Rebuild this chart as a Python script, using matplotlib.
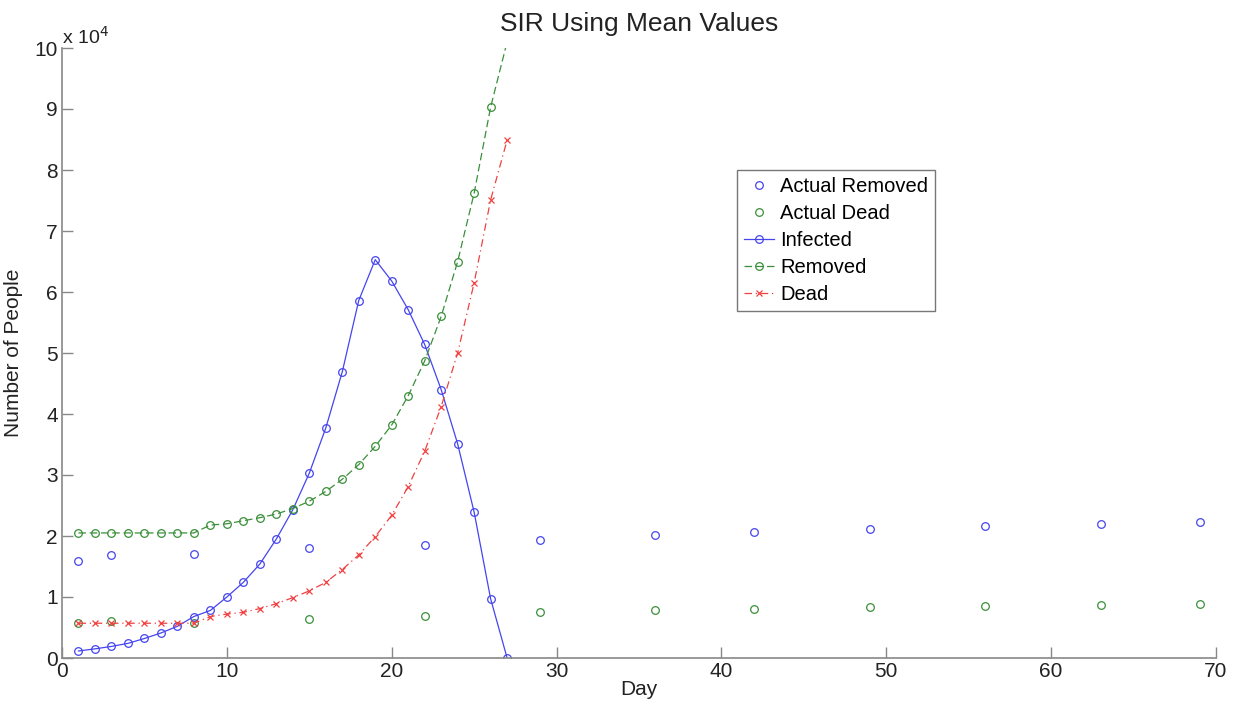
import matplotlib
matplotlib.use("Agg")
import matplotlib.pyplot as plt
from matplotlib.ticker import FuncFormatter

plt.rcParams['font.family'] = ['Liberation Sans', 'DejaVu Sans']

# ---- data (values in people) ----
model_days = list(range(1, 28))
infected = [1150, 1500, 1900, 2400, 3200, 4100, 5200, 6800, 7800, 10000,
            12400, 15400, 19500, 24300, 30300, 37700, 46900, 58600, 65300,
            61800, 57100, 51400, 44000, 35100, 23900, 9700, 0]
removed = [20500, 20500, 20500, 20500, 20500, 20500, 20500, 20500, 21800, 22000,
           22500, 23000, 23600, 24500, 25700, 27300, 29300, 31700, 34700,
           38200, 43000, 48700, 56000, 65000, 76200, 90300, 101000]
dead = [5700, 5700, 5700, 5700, 5700, 5700, 5700, 5700, 6800, 7200,
        7500, 8100, 8900, 9900, 11000, 12400, 14500, 16900, 19900,
        23400, 28100, 33900, 41200, 50000, 61500, 75100, 84900]

actual_days = [1, 3, 8, 15, 22, 29, 36, 42, 49, 56, 63, 69]
actual_removed = [15950, 16900, 17000, 18000, 18500, 19300, 20200, 20600,
                  21100, 21700, 21900, 22300]
actual_dead = [5700, 6100, 5800, 6400, 6900, 7500, 7900, 8100, 8400, 8500,
               8700, 8850]

xticks = [0, 10, 20, 30, 40, 50, 60, 70]
yticks = [0, 10000, 20000, 30000, 40000, 50000, 60000, 70000, 80000, 90000, 100000]

# ---- figure ----
fig = plt.figure(figsize=(12.39, 7.07), dpi=100)
ax = fig.add_axes([62 / 1239, 1 - 658 / 707, (1216 - 62) / 1239, (658 - 48) / 707])

blue = '#4545f0'
green = '#3a8f3a'
red = '#f04040'
ms = 5.5

ax.plot(actual_days, actual_removed, linestyle='none', marker='o', mfc='none',
        mec=blue, ms=ms, mew=0.9, label='Actual Removed')
ax.plot(actual_days, actual_dead, linestyle='none', marker='o', mfc='none',
        mec=green, ms=ms, mew=0.9, label='Actual Dead')
ax.plot(model_days, infected, '-', color=blue, lw=0.9, marker='o', mfc='none',
        ms=ms, mew=0.9, label='Infected')
ax.plot(model_days, removed, color=green, lw=0.9, linestyle=(0, (6, 3)),
        marker='o', mfc='none', ms=ms, mew=0.9, label='Removed')
ax.plot(model_days, dead, color=red, lw=0.9, linestyle=(0, (6, 3, 1, 3)),
        marker='x', ms=4.5, mew=0.9, label='Dead')

ax.set_xlim(0, 70)
ax.set_ylim(0, 100000)
ax.set_xticks(xticks)
ax.set_yticks(yticks)
ax.yaxis.set_major_formatter(FuncFormatter(lambda v, p: f"{v / 1e4:g}"))

for s in ['top', 'right']:
    ax.spines[s].set_visible(False)
for s in ['left', 'bottom']:
    ax.spines[s].set_color('#888888')
    ax.spines[s].set_linewidth(1.2)
ax.tick_params(direction='in', length=8, width=1, color='#888888',
               labelsize=15, labelcolor='#222222', pad=3)

ax.text(0.0, 1.0, r'x 10$^4$', transform=ax.transAxes, fontsize=14,
        color='#222222', ha='left', va='bottom')

ax.set_title('SIR Using Mean Values', fontsize=19, color='#222222', pad=12)
ax.set_xlabel('Day', fontsize=15, color='#222222', labelpad=-1)
ax.set_ylabel('Number of People', fontsize=15, color='#222222', labelpad=8)

leg = ax.legend(loc='upper left', bbox_to_anchor=(0.585, 0.80), fontsize=14.5,
                frameon=True, fancybox=False, handlelength=1.5,
                handletextpad=0.3, borderpad=0.35, labelspacing=0.4,
                borderaxespad=0)
leg.get_frame().set_edgecolor('#555555')
leg.get_frame().set_linewidth(1.0)

fig.savefig('out.png', dpi=100)
